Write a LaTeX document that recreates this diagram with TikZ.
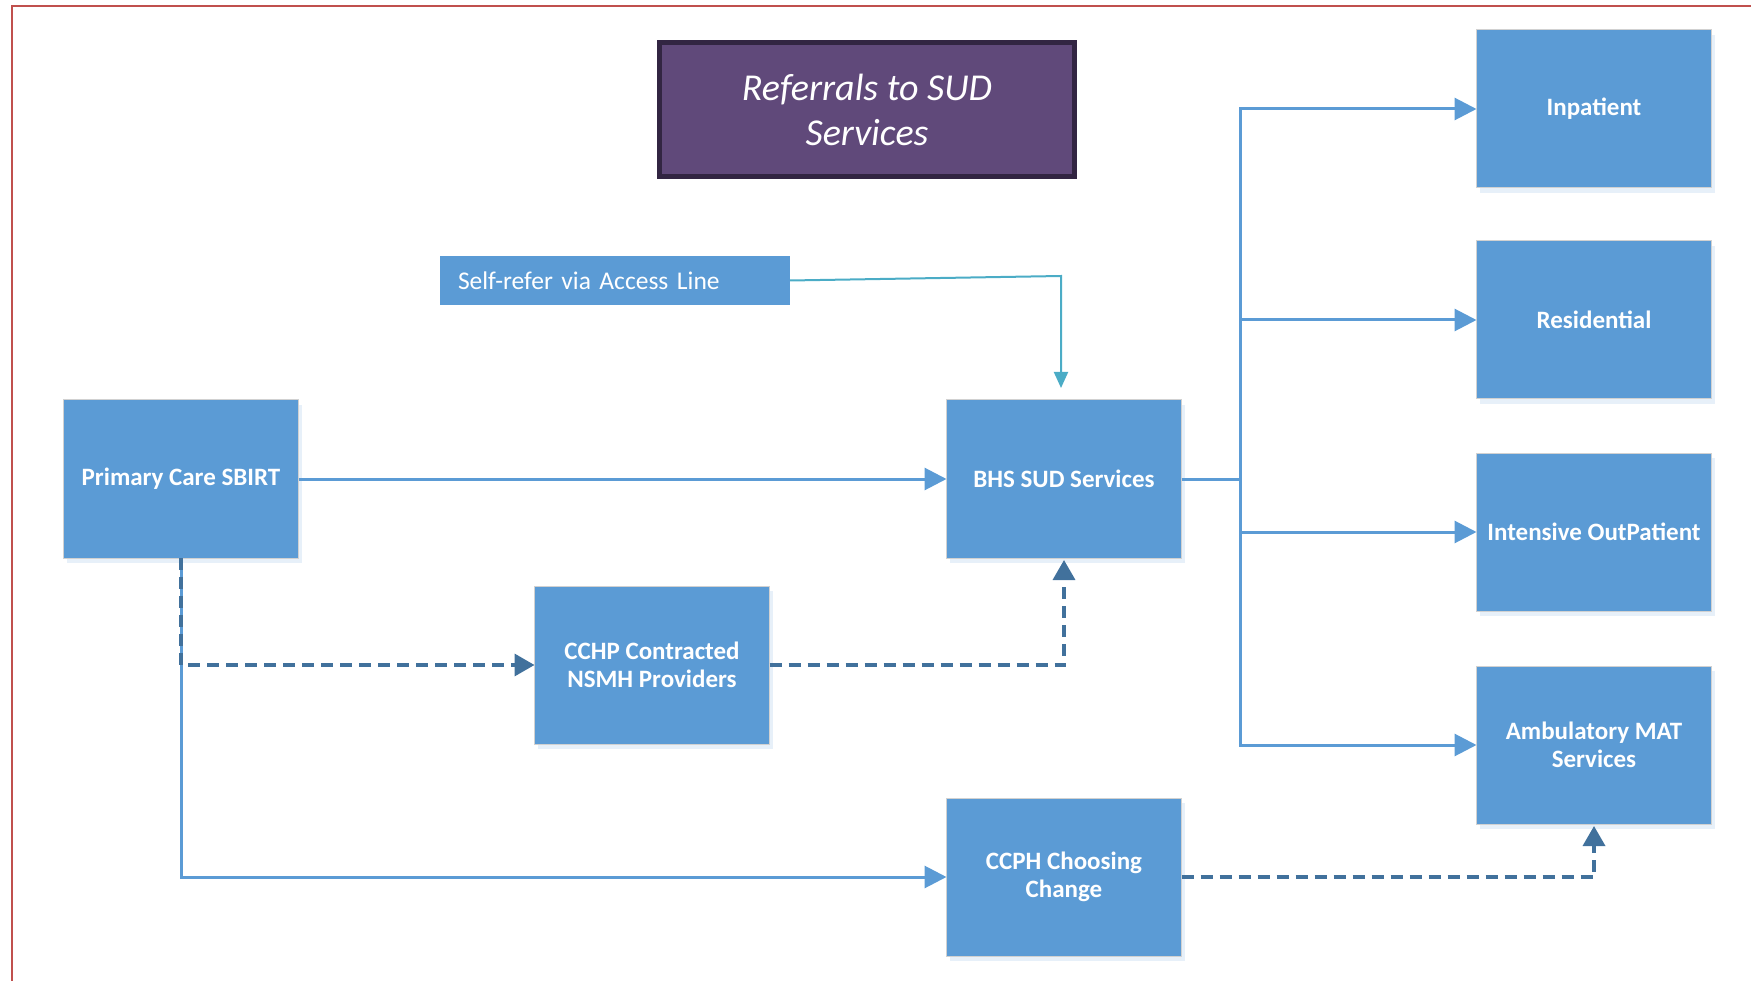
\documentclass[tikz,border=0pt]{standalone}
\usepackage{fontspec}
\setmainfont{Carlito}
\usetikzlibrary{arrows.meta,shadows}
\definecolor{boxblue}{RGB}{91,155,213}
\definecolor{dashblue}{RGB}{65,113,156}
\definecolor{accessteal}{RGB}{75,172,198}
\definecolor{titlefill}{RGB}{96,73,122}
\definecolor{titleedge}{RGB}{50,37,66}
\definecolor{framered}{RGB}{192,80,77}
\begin{document}
\begin{tikzpicture}[x=1pt,y=-1pt,
  svcbox/.style={rectangle, fill=boxblue, draw=black!18, line width=1pt,
    minimum width=235pt, minimum height=158pt, inner sep=4pt, outer sep=0pt,
    text=white, align=center, font=\fontsize{25}{28}\selectfont\bfseries,
    drop shadow={shadow xshift=3pt, shadow yshift=-5pt, opacity=0.15, fill=boxblue}},
  titlebox/.style={rectangle, fill=titlefill, draw=titleedge, line width=5pt,
    minimum width=415pt, minimum height=134pt, inner sep=0pt, outer sep=2.5pt,
    text=white, align=center, font=\fontsize{38}{45}\selectfont\itshape},
  accessbox/.style={rectangle, fill=boxblue, minimum width=350pt, minimum height=49pt,
    inner sep=0pt, outer sep=0pt, text=white, text width=314pt, align=left,
    font=\fontsize{25.5}{30}\selectfont},
  solidline/.style={draw=boxblue, line width=3pt},
  solidarrow/.style={solidline, -{Triangle[length=22pt,width=22pt]}},
  dasharrow/.style={draw=dashblue, line width=3.5pt, dash pattern=on 12pt off 7pt,
    -{Triangle[length=20pt,width=22pt]}},
  tealarrow/.style={draw=accessteal, line width=2pt, -{Triangle[length=16pt,width=14pt]}},
  framestyle/.style={draw=framered, line width=2pt}
]
\useasboundingbox (0,0) rectangle (1751,981);
% frame
\draw[framestyle] (12,981) -- (12,6) -- (1751,6);

% nodes
\node[titlebox] (title) at (867,109.5) {Referrals to SUD\\Services};
\node[accessbox] (sr) at (615,280.5) {Self-refer via Access Line};
\node[svcbox] (prim) at (181,479) {Primary Care SBIRT};
\node[svcbox] (bhs) at (1064,479) {BHS SUD Services};
\node[svcbox] (cchp) at (652,665) {CCHP Contracted\\NSMH Providers};
\node[svcbox] (ccph) at (1064,877) {CCPH Choosing\\Change};
\node[svcbox] (inp) at (1594,109) {Inpatient};
\node[svcbox] (res) at (1594,320) {Residential};
\node[svcbox] (iop) at (1594,532) {Intensive OutPatient};
\node[svcbox] (ams) at (1594,745) {Ambulatory MAT\\Services};

% connectors
\coordinate (c1) at (1061,276);
\draw[tealarrow, shorten >=12pt] (sr.east) -- (c1) -- (c1 |- bhs.north);

\draw[solidarrow] (prim) -- (bhs);
\coordinate (trunk) at (1240,479);
\draw[solidline] (bhs.east) -- (trunk);
\draw[solidarrow] (trunk) |- (inp.west);
\draw[solidarrow] (trunk) |- (res.west);
\draw[solidarrow] (trunk) |- (iop.west);
\draw[solidarrow] (trunk) |- (ams.west);

\draw[solidarrow] (prim.south) |- (ccph.west);
\draw[dasharrow] (prim.south) -- (prim.south |- cchp.west) -- (cchp.west);
\draw[dasharrow, shorten >=2pt] (cchp.east) -| (bhs.south);
\draw[dasharrow, shorten >=2pt] (ccph.east) -| (ams.south);
\end{tikzpicture}
\end{document}
